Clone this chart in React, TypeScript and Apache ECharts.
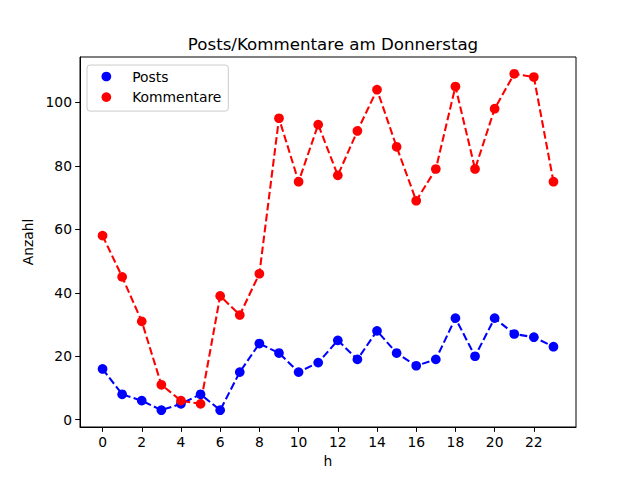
import React, { useEffect, useRef } from "react";
import * as echarts from "echarts";

const hours = Array.from({ length: 24 }, (_, i) => i);
const posts = [16, 8, 6, 3, 5, 8, 3, 15, 24, 21, 15, 18, 25, 19, 28, 21, 17, 19, 32, 20, 32, 27, 26, 23];
const kommentare = [58, 45, 31, 11, 6, 5, 39, 33, 46, 95, 75, 93, 77, 91, 104, 86, 69, 79, 105, 79, 98, 109, 108, 75];
const xTicks = [0, 2, 4, 6, 8, 10, 12, 14, 16, 18, 20, 22];
const yTicks = [0, 20, 40, 60, 80, 100];

const FONT = "DejaVu Sans";
const FS = 13.89;

export default function App() {
  const ref = useRef<HTMLDivElement>(null);
  useEffect(() => {
    const chart = echarts.init(ref.current!, undefined, { renderer: "svg" });
    const mk = (name: string, vals: number[], color: string) => ({
      name,
      type: "line",
      data: hours.map((h, i) => [h, vals[i]]),
      symbol: "circle",
      symbolSize: 9.7,
      itemStyle: { color },
      lineStyle: { color, width: 2.08, type: [7.7, 3.33] },
      emphasis: { disabled: true },
    });
    chart.setOption({
      animation: false,
      backgroundColor: "#ffffff",
      textStyle: { fontFamily: FONT },
      title: {
        text: "Posts/Kommentare am Donnerstag",
        left: 328,
        top: 31,
        textAlign: "center",
        textStyle: { fontFamily: FONT, fontSize: 16.67, fontWeight: "normal", color: "#000" },
      },
      grid: {
        left: 80,
        right: 64,
        top: 57,
        bottom: 53,
        show: true,
        borderColor: "#000",
        borderWidth: 1,
        backgroundColor: "transparent",
      },
      legend: {
        left: 87,
        top: 65,
        orient: "vertical",
        icon: "circle",
        itemWidth: 9.7,
        itemHeight: 9.7,
        itemGap: 6.6,
        padding: [4.5, 7, 7, 14.5],
        backgroundColor: "rgba(255,255,255,0.8)",
        borderColor: "#cccccc",
        borderWidth: 1,
        borderRadius: 3,
        textStyle: { fontFamily: FONT, fontSize: FS, color: "#000", lineHeight: 14, padding: [0, 0, 0, 16] },
        data: ["Posts", "Kommentare"],
      },
      xAxis: {
        type: "value",
        min: -1.15,
        max: 24.15,
        name: "h",
        nameLocation: "middle",
        nameGap: 27,
        nameTextStyle: { fontFamily: FONT, fontSize: FS, color: "#000" },
        axisLine: { show: true, onZero: false, lineStyle: { color: "#000" } },
        splitLine: { show: false },
        axisTick: { show: true, inside: false, length: 4.86, lineStyle: { color: "#000" }, customValues: xTicks },
        axisLabel: { margin: 8, fontFamily: FONT, fontSize: FS, color: "#000", customValues: xTicks },
      },
      yAxis: {
        type: "value",
        min: -2.3,
        max: 114.3,
        name: "Anzahl",
        nameLocation: "middle",
        nameGap: 44,
        nameTextStyle: { fontFamily: FONT, fontSize: FS, color: "#000" },
        axisLine: { show: true, onZero: false, lineStyle: { color: "#000" } },
        splitLine: { show: false },
        axisTick: { show: true, inside: false, length: 4.86, lineStyle: { color: "#000" }, customValues: yTicks },
        axisLabel: { margin: 8, fontFamily: FONT, fontSize: FS, color: "#000", customValues: yTicks },
      },
      series: [mk("Posts", posts, "#0000ff"), mk("Kommentare", kommentare, "#ff0000")],
    });
    return () => chart.dispose();
  }, []);
  return (
    <div
      ref={ref}
      style={{ position: "fixed", left: 0, top: 0, width: 640, height: 480, background: "#fff" }}
    />
  );
}
